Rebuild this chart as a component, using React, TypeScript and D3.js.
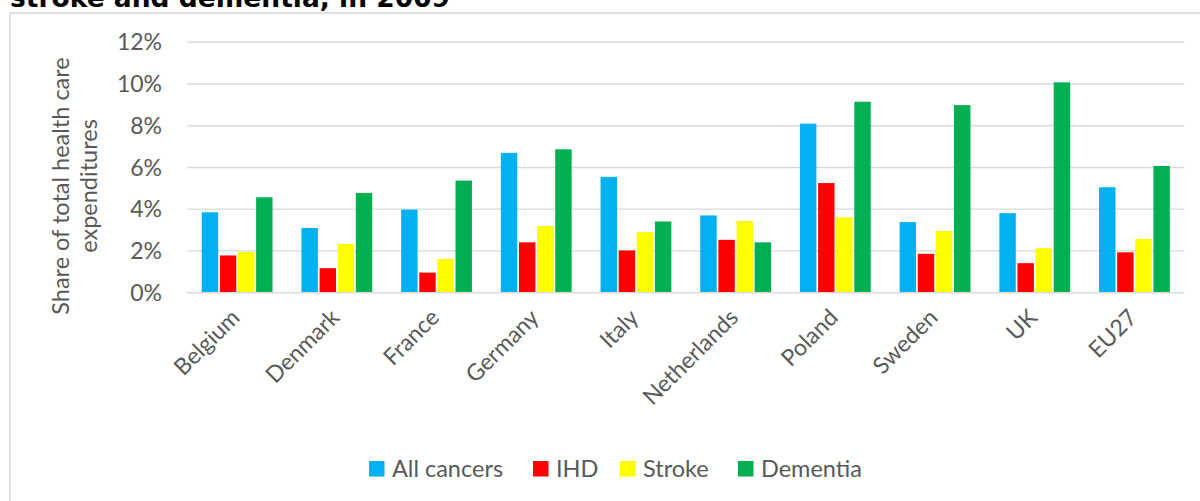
import React from 'react';
import * as d3 from 'd3';

const categories = ['Belgium', 'Denmark', 'France', 'Germany', 'Italy', 'Netherlands', 'Poland', 'Sweden', 'UK', 'EU27'];
const seriesNames = ['All cancers', 'IHD', 'Stroke', 'Dementia'];
const seriesColors = ['#00B0F0', '#FF0000', '#FFFF00', '#00B050'];

// shares of total health care expenditure (%)
const allCancers = [3.85, 3.10, 3.98, 6.70, 5.55, 3.70, 8.10, 3.38, 3.81, 5.05];
const ihd = [1.78, 1.17, 0.96, 2.41, 2.02, 2.53, 5.25, 1.86, 1.41, 1.93];
const stroke = [1.95, 2.33, 1.61, 3.19, 2.90, 3.43, 3.61, 2.95, 2.13, 2.57];
const dementia = [4.57, 4.78, 5.37, 6.87, 3.41, 2.41, 9.15, 8.99, 10.08, 6.07];

const yTicks = [0, 2, 4, 6, 8, 10, 12];

const W = 1200;
const H = 501;
const FONT = 'Lato, Carlito, Calibri, sans-serif';
const TEXT = '#595959';
const GRID = '#d9d9d9';

export default function App() {
  const values = [allCancers, ihd, stroke, dementia];

  const x = d3.scaleBand<string>()
    .domain(categories)
    .range([187.3, 1184.3])
    .paddingInner(0.29)
    .paddingOuter(0.145);

  const xInner = d3.scaleBand<string>()
    .domain(seriesNames)
    .range([0, x.bandwidth()])
    .paddingInner(0.094);

  const y = d3.scaleLinear().domain([0, 12]).range([292.6, 42.3]);
  const fmt = (d: number) => `${d}%`;

  // legend layout
  const legendX = [369, 533, 620, 738];

  return (
    <svg width={W} height={H} style={{ position: 'absolute', left: 0, top: 0 }}>
      <rect width={W} height={H} fill="#fff" />
      {/* title is cut at the top edge, as in the source */}
      <text x={10} y={7} fontFamily="'DejaVu Sans', Verdana, sans-serif" fontWeight="bold" fontSize={26.5} fill="#000">
        stroke and dementia, in 2009
      </text>
      <rect x={10} y={13} width={1200} height={600} fill="none" stroke={GRID} strokeWidth={1.5} />

      {/* gridlines */}
      {yTicks.map(t => (
        <g key={t}>
          <line x1={187.3} x2={1184.3} y1={y(t)} y2={y(t)} stroke={GRID} strokeWidth={1.4} />
          <text x={162} y={y(t)} dy="0.35em" textAnchor="end" fontFamily={FONT} fontSize={23} fill={TEXT}>
            {fmt(t)}
          </text>
        </g>
      ))}

      {/* bars */}
      {categories.map((c, i) => (
        <g key={c} transform={`translate(${x(c)},0)`}>
          {values.map((vals, s) => (
            <rect
              key={s}
              x={xInner(seriesNames[s])}
              y={y(vals[i])}
              width={xInner.bandwidth()}
              height={y(0) - y(vals[i])}
              fill={seriesColors[s]}
            />
          ))}
        </g>
      ))}
      <line x1={187.3} x2={1184.3} y1={y(0)} y2={y(0)} stroke={GRID} strokeWidth={1.4} />

      {/* category labels */}
      {categories.map(c => {
        const cx = (x(c) as number) + x.bandwidth() / 2 + 4;
        return (
          <text key={c} transform={`translate(${cx},319) rotate(-45)`} textAnchor="end" fontFamily={FONT} fontSize={23} fill={TEXT}>
            {c}
          </text>
        );
      })}

      {/* y-axis title */}
      <text transform="translate(0,186) rotate(-90)" textAnchor="middle" fontFamily={FONT} fontSize={23.5} fill={TEXT}>
        <tspan x={0} y={69}>Share of total health care</tspan>
        <tspan x={0} y={97}>expenditures</tspan>
      </text>

      {/* legend */}
      {seriesNames.map((s, i) => (
        <g key={s} transform={`translate(${legendX[i]},461)`}>
          <rect width={15.5} height={15.5} fill={seriesColors[i]} />
          <text x={23} y={8} dy="0.35em" fontFamily={FONT} fontSize={23.5} fill={TEXT}>{s}</text>
        </g>
      ))}
    </svg>
  );
}
